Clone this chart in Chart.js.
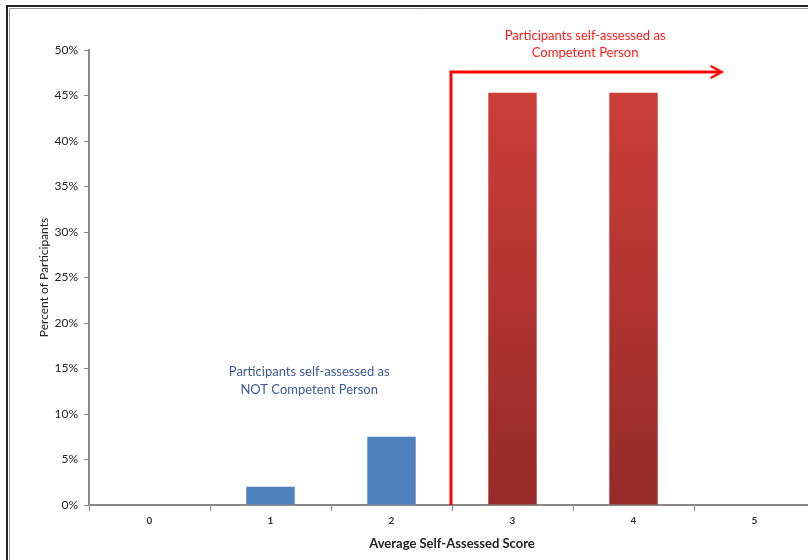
<!DOCTYPE html>
<html>
<head>
<meta charset="utf-8">
<script src="https://cdn.jsdelivr.net/npm/chart.js@4"></script>
<style>
  html, body { margin: 0; padding: 0; background: #fff; overflow: hidden; }
  #wrap { position: absolute; left: 0; top: 0; width: 830px; height: 560px; }
</style>
</head>
<body>
<div id="wrap"><canvas id="chart"></canvas></div>
<script>
const scores = ['0', '1', '2', '3', '4', '5'];
const percents = [0, 2.0, 7.5, 45.3, 45.3, 0];
const yTicks = [0, 5, 10, 15, 20, 25, 30, 35, 40, 45, 50];

// annotation anchors, in data units
const cutoffScore = 2.5;
const arrowTop = 47.6;
const arrowEnd = 4.72;
const competentText = ['Participants self-assessed as', 'Competent Person'];
const notCompetentText = ['Participants self-assessed as', 'NOT Competent Person'];

const FONT = 'Lato, "Liberation Sans", sans-serif';

function barColor(ctx) {
  const i = ctx.dataIndex;
  if (i < 3) return '#4f81bd';
  const area = ctx.chart.chartArea;
  if (!area) return '#c0392b';
  const g = ctx.chart.ctx.createLinearGradient(0, area.top, 0, area.bottom);
  g.addColorStop(0, '#d2403a');
  g.addColorStop(1, '#962a28');
  return g;
}

const overlay = {
  id: 'overlay',
  afterDatasetsDraw(chart) {
    const c = chart.ctx;
    const x = chart.scales.x, y = chart.scales.y;
    c.save();
    // frame
    c.strokeStyle = '#222';
    c.lineWidth = 2;
    c.beginPath();
    c.moveTo(7, 600);
    c.lineTo(7, 6);
    c.lineTo(900, 6);
    c.stroke();
    c.strokeStyle = '#999';
    c.lineWidth = 1;
    c.beginPath();
    c.moveTo(9.5, 600);
    c.lineTo(9.5, 8.5);
    c.lineTo(900, 8.5);
    c.stroke();

    // red arrow
    const x0 = Math.round(x.getPixelForValue(cutoffScore)) - 1;
    const yb = y.getPixelForValue(0);
    const yt = Math.round(y.getPixelForValue(arrowTop));
    const x1 = x.getPixelForValue(arrowEnd);
    c.strokeStyle = '#ff0000';
    c.lineWidth = 3;
    c.beginPath();
    c.moveTo(x0, yb);
    c.lineTo(x0, yt);
    c.lineTo(x1, yt);
    c.stroke();
    c.lineWidth = 2.5;
    c.beginPath();
    c.moveTo(x1 - 10, yt - 6);
    c.lineTo(x1 + 1, yt);
    c.lineTo(x1 - 10, yt + 6);
    c.stroke();

    // notes
    c.font = '13px ' + FONT;
    c.textAlign = 'center';
    c.textBaseline = 'middle';
    c.fillStyle = '#ff1a1a';
    const rx = x.getPixelForValue(3.6);
    c.fillText(competentText[0], rx, y.getPixelForValue(51.6));
    c.fillText(competentText[1], rx, y.getPixelForValue(49.7));
    c.fillStyle = '#3b5a9a';
    const bx = x.getPixelForValue(1.32);
    c.fillText(notCompetentText[0], bx, y.getPixelForValue(14.6));
    c.fillText(notCompetentText[1], bx, y.getPixelForValue(12.7));
    c.restore();
  }
};

const config = {
  type: 'bar',
  data: {
    labels: scores,
    datasets: [{
      data: percents,
      backgroundColor: barColor,
      borderWidth: 0,
      barPercentage: 0.4,
      categoryPercentage: 1.0
    }]
  },
  options: {
    responsive: true,
    maintainAspectRatio: false,
    animation: false,
    layout: { padding: { top: 50, right: 15, left: 33, bottom: 0 } },
    plugins: { legend: { display: false }, tooltip: { enabled: false } },
    scales: {
      x: {
        grid: { drawOnChartArea: false, drawTicks: true, tickLength: 6, color: '#888', offset: true },
        border: { color: '#888', width: 2 },
        ticks: { color: '#333', font: { family: FONT, size: 10, weight: 'bold' }, padding: 4 },
        title: { display: true, text: 'Average Self-Assessed Score', color: '#222',
          font: { family: FONT, size: 13, weight: 'bold' }, padding: { top: 3, bottom: 8 } },
        afterFit(s) { s.height = 55; }
      },
      y: {
        min: 0, max: 50,
        afterBuildTicks(s) { s.ticks = yTicks.map(v => ({ value: v })); },
        grid: { drawOnChartArea: false, drawTicks: true, tickLength: 5, color: '#888' },
        border: { color: '#888', width: 2 },
        ticks: { color: '#222', font: { family: FONT, size: 12 }, padding: 6,
          callback: v => v + '%' },
        title: { display: true, text: 'Percent of Participants', color: '#222',
          font: { family: FONT, size: 12 } },
        afterFit(s) { s.width = 56; }
      }
    }
  },
  plugins: [overlay]
};

const myChart = new Chart(document.getElementById('chart'), config);
</script>
</body>
</html>
